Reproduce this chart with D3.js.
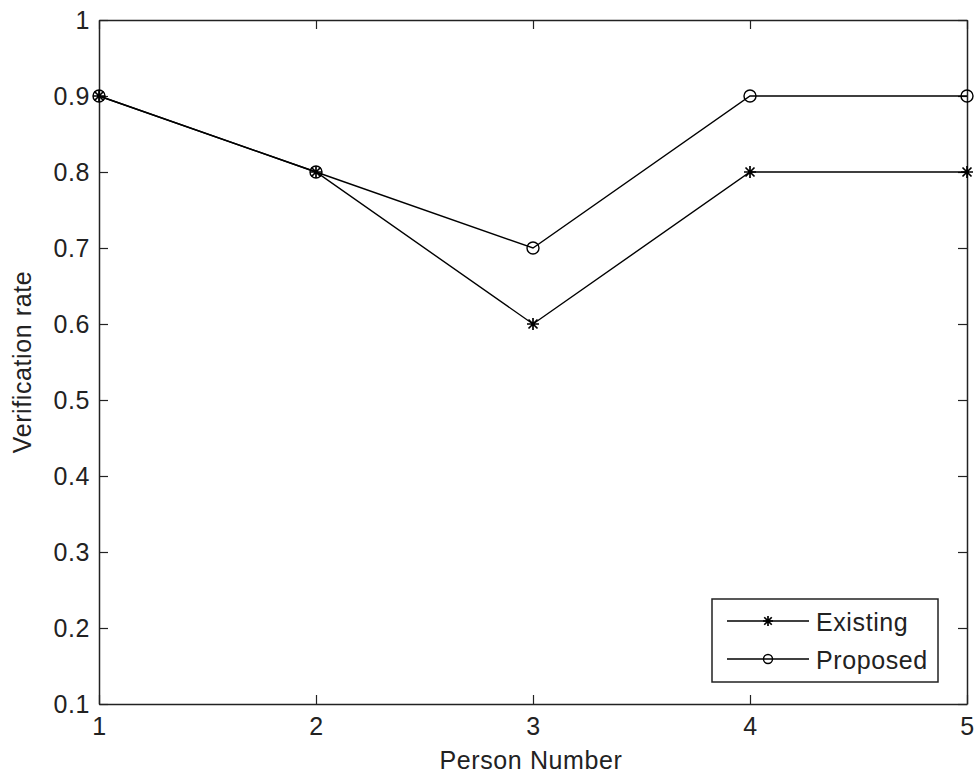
<!DOCTYPE html>
<html><head><meta charset="utf-8">
<script src="https://cdn.jsdelivr.net/npm/d3@7"></script>
<style>body{margin:0;background:#fff}svg{display:block}text{font-family:"Liberation Sans",Arial,sans-serif;letter-spacing:0.6px}</style>
</head><body><svg id="c" width="976" height="779"></svg>
<script>
const persons = [1, 2, 3, 4, 5];
const existing = [0.9, 0.8, 0.6, 0.8, 0.8];
const proposed = [0.9, 0.8, 0.7, 0.9, 0.9];
const yTicks = [0.1, 0.2, 0.3, 0.4, 0.5, 0.6, 0.7, 0.8, 0.9, 1];
const xTicks = [1, 2, 3, 4, 5];
const seriesNames = ["Existing", "Proposed"];

const svg = d3.select("#c");
const L = 99, R = 967, T = 20, B = 704;
const x = d3.scaleLinear().domain([1, 5]).range([L, R]);
const y = d3.scaleLinear().domain([0.1, 1]).range([B, T]);
const col = "#222";
const tk = 9;
const FS = 25;

const fmt = d => d === 1 ? "1" : d3.format(".1f")(d);

const gB = svg.append("g").attr("transform", `translate(0,${B})`)
  .call(d3.axisBottom(x).tickValues(xTicks).tickSizeInner(-tk).tickSizeOuter(0).tickPadding(13).tickFormat(d3.format("d")));
const gT = svg.append("g").attr("transform", `translate(0,${T})`)
  .call(d3.axisTop(x).tickValues(xTicks).tickSizeInner(-tk).tickSizeOuter(0).tickFormat(""));
const gL = svg.append("g").attr("transform", `translate(${L},0)`)
  .call(d3.axisLeft(y).tickValues(yTicks).tickSizeInner(-tk).tickSizeOuter(0).tickPadding(9).tickFormat(fmt));
const gR = svg.append("g").attr("transform", `translate(${R},0)`)
  .call(d3.axisRight(y).tickValues(yTicks).tickSizeInner(-tk).tickSizeOuter(0).tickFormat(""));
[gB, gT, gL, gR].forEach(g => {
  g.attr("font-size", FS).attr("font-family", null);
  g.select(".domain").attr("stroke", col).attr("stroke-width", 1.5);
  g.selectAll(".tick line").attr("stroke", col).attr("stroke-width", 1.2);
  g.selectAll(".tick text").attr("fill", "#222").attr("font-size", FS);
});

const line = d3.line().x((d, i) => x(persons[i])).y(d => y(d));
function star(g, cx, cy, s) {
  const p = d3.path();
  p.moveTo(cx - s, cy); p.lineTo(cx + s, cy);
  p.moveTo(cx, cy - s); p.lineTo(cx, cy + s);
  const k = s * 0.75;
  p.moveTo(cx - k, cy - k); p.lineTo(cx + k, cy + k);
  p.moveTo(cx - k, cy + k); p.lineTo(cx + k, cy - k);
  g.append("path").attr("d", p.toString()).attr("stroke", "#000").attr("stroke-width", 1.7).attr("fill", "none");
}
function circ(g, cx, cy, r) {
  g.append("circle").attr("cx", cx).attr("cy", cy).attr("r", r).attr("fill", "none").attr("stroke", "#000").attr("stroke-width", 1.4);
}

const plot = svg.append("g");
plot.append("path").attr("d", line(existing)).attr("fill", "none").attr("stroke", "#000").attr("stroke-width", 1.4);
plot.append("path").attr("d", line(proposed)).attr("fill", "none").attr("stroke", "#000").attr("stroke-width", 1.4);
existing.forEach((d, i) => star(plot, x(persons[i]), y(d), 6));
proposed.forEach((d, i) => circ(plot, x(persons[i]), y(d), 6));

svg.append("text").attr("x", 531).attr("y", 769).attr("text-anchor", "middle").attr("font-size", FS).attr("fill", "#222").text("Person Number");
svg.append("text").attr("transform", `translate(31,${362}) rotate(-90)`).attr("text-anchor", "middle").attr("font-size", FS).attr("fill", "#222").text("Verification rate");

const lg = svg.append("g");
lg.append("rect").attr("x", 712).attr("y", 599).attr("width", 226).attr("height", 83).attr("fill", "#fff").attr("stroke", col).attr("stroke-width", 1.5);
const ly = [621, 659];
seriesNames.forEach((n, i) => {
  lg.append("line").attr("x1", 727).attr("x2", 809).attr("y1", ly[i]).attr("y2", ly[i]).attr("stroke", "#000").attr("stroke-width", 1.4);
  if (i === 0) star(lg, 768, ly[i], 5); else circ(lg, 768, ly[i], 4.5);
  lg.append("text").attr("x", 816).attr("y", ly[i] + 10).attr("font-size", FS).attr("fill", "#222").text(n);
});
</script></body></html>
